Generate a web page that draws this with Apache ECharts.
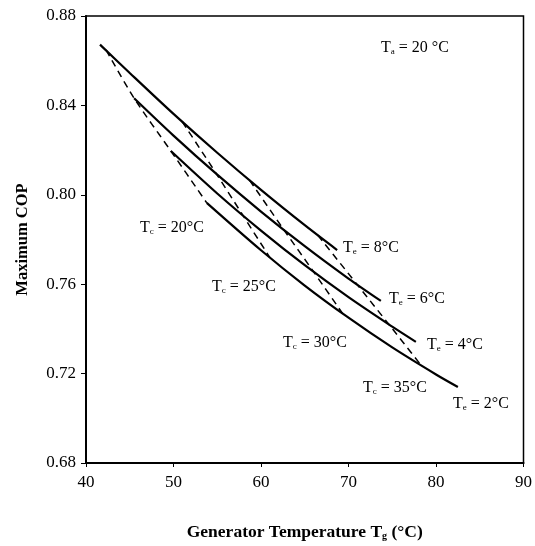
<!DOCTYPE html>
<html>
<head>
<meta charset="utf-8">
<script src="https://cdn.jsdelivr.net/npm/echarts@6/dist/echarts.min.js"></script>
<style>
  html, body { margin: 0; padding: 0; background: #fff; }
  #chart { width: 535px; height: 546px; }
</style>
</head>
<body>
<div id="chart"></div>
<script>
// evaporator temperature curves (solid)
const te8X = [41.6, 45, 50, 55, 60, 65, 68.7];
const te8Y = [0.8672, 0.8545, 0.8362, 0.8188, 0.8022, 0.7864, 0.7753];
const te6X = [45.5, 50, 55, 60, 65, 70, 73.7];
const te6Y = [0.8432, 0.8265, 0.8090, 0.7925, 0.7770, 0.7625, 0.7525];
const te4X = [49.7, 55, 60, 65, 70, 75, 77.7];
const te4Y = [0.8196, 0.8006, 0.7840, 0.7685, 0.7542, 0.7410, 0.7342];
const te2X = [53.8, 60, 65, 70, 75, 80, 82.5];
const te2Y = [0.7964, 0.7752, 0.7594, 0.7450, 0.7317, 0.7196, 0.7140];

// condenser temperature curves (dashed)
const tc20X = [42.3, 45.5, 49.7, 53.8];
const tc20Y = [0.8648, 0.8432, 0.8196, 0.7964];
const tc25X = [51.0, 54.9, 57.9, 61.0];
const tc25Y = [0.8327, 0.8094, 0.7910, 0.7720];
const tc30X = [58.7, 62.6, 66.0, 69.3];
const tc30Y = [0.8065, 0.7844, 0.7656, 0.7470];
const tc35X = [66.5, 71.0, 74.6, 78.3];
const tc35Y = [0.7819, 0.7598, 0.7421, 0.7237];

const xTicks = [40, 50, 60, 70, 80, 90];
const yTicks = [0.68, 0.72, 0.76, 0.80, 0.84, 0.88];

const FONT = '"Liberation Serif", "DejaVu Serif", serif';

const pair = (xs, ys) => xs.map((x, i) => [x, ys[i]]);

const solid = (name, xs, ys) => ({
  name, type: 'line', data: pair(xs, ys),
  showSymbol: false, smooth: 0.3,
  lineStyle: { color: '#000', width: 2.2 }
});
const dashed = (name, xs, ys) => ({
  name, type: 'line', data: pair(xs, ys),
  showSymbol: false, smooth: 0.3,
  lineStyle: { color: '#000', width: 1.5, type: [7, 5] }
});

// label helper: T with subscript
const rich = {
  n: { fontFamily: FONT, fontSize: 16, color: '#000' },
  s: { fontFamily: FONT, fontSize: 9, color: '#000', verticalAlign: 'bottom', padding: [7, 0, 0, 0] }
};
const lbl = (left, top, sub, rest) => ({
  type: 'text', left, top,
  style: { text: '{n|T}{s|' + sub + '}{n| ' + rest + '}', rich }
});

const chart = echarts.init(document.getElementById('chart'));
chart.setOption({
  backgroundColor: '#fff',
  animation: false,
  grid: { left: 86, right: 10, top: 16, bottom: 73, show: true, borderColor: '#000', borderWidth: 1.5 },
  xAxis: {
    type: 'value', min: 40, max: 90, interval: 10,
    name: 'Generator Temperature T{s|g} (°C)',
    nameLocation: 'middle', nameGap: 60,
    nameTextStyle: {
      fontFamily: FONT, fontSize: 17.5, fontWeight: 'bold', color: '#000',
      rich: { s: { fontFamily: FONT, fontSize: 10, fontWeight: 'bold', verticalAlign: 'bottom', padding: [7, 0, 0, 0] } }
    },
    axisLine: { lineStyle: { color: '#000', width: 2 } },
    axisTick: { show: true, length: 4, lineStyle: { color: '#000' } },
    axisLabel: { fontFamily: FONT, fontSize: 17, color: '#000', margin: 11,
      formatter: v => xTicks.includes(v) ? String(v) : '' },
    splitLine: { show: false }
  },
  yAxis: {
    type: 'value', min: 0.68, max: 0.88, interval: 0.04,
    name: 'Maximum COP',
    nameLocation: 'middle', nameGap: 55,
    nameTextStyle: { fontFamily: FONT, fontSize: 16.5, fontWeight: 'bold', color: '#000' },
    axisLine: { lineStyle: { color: '#000', width: 2 } },
    axisTick: { show: true, length: 5, lineStyle: { color: '#000' } },
    axisLabel: { fontFamily: FONT, fontSize: 17, color: '#000', margin: 10,
      formatter: v => yTicks.find(t => Math.abs(t - v) < 1e-6)?.toFixed(2) ?? '' },
    splitLine: { show: false }
  },
  series: [
    solid('Te8', te8X, te8Y),
    solid('Te6', te6X, te6Y),
    solid('Te4', te4X, te4Y),
    solid('Te2', te2X, te2Y),
    dashed('Tc20', tc20X, tc20Y),
    dashed('Tc25', tc25X, tc25Y),
    dashed('Tc30', tc30X, tc30Y),
    dashed('Tc35', tc35X, tc35Y)
  ],
  graphic: [
    lbl(381, 40, 'a', '= 20 °C'),
    lbl(343, 240, 'e', '= 8°C'),
    lbl(389, 291, 'e', '= 6°C'),
    lbl(427, 337, 'e', '= 4°C'),
    lbl(453, 396, 'e', '= 2°C'),
    lbl(140, 220, 'c', '= 20°C'),
    lbl(212, 279, 'c', '= 25°C'),
    lbl(283, 335, 'c', '= 30°C'),
    lbl(363, 380, 'c', '= 35°C')
  ]
});
</script>
</body>
</html>
